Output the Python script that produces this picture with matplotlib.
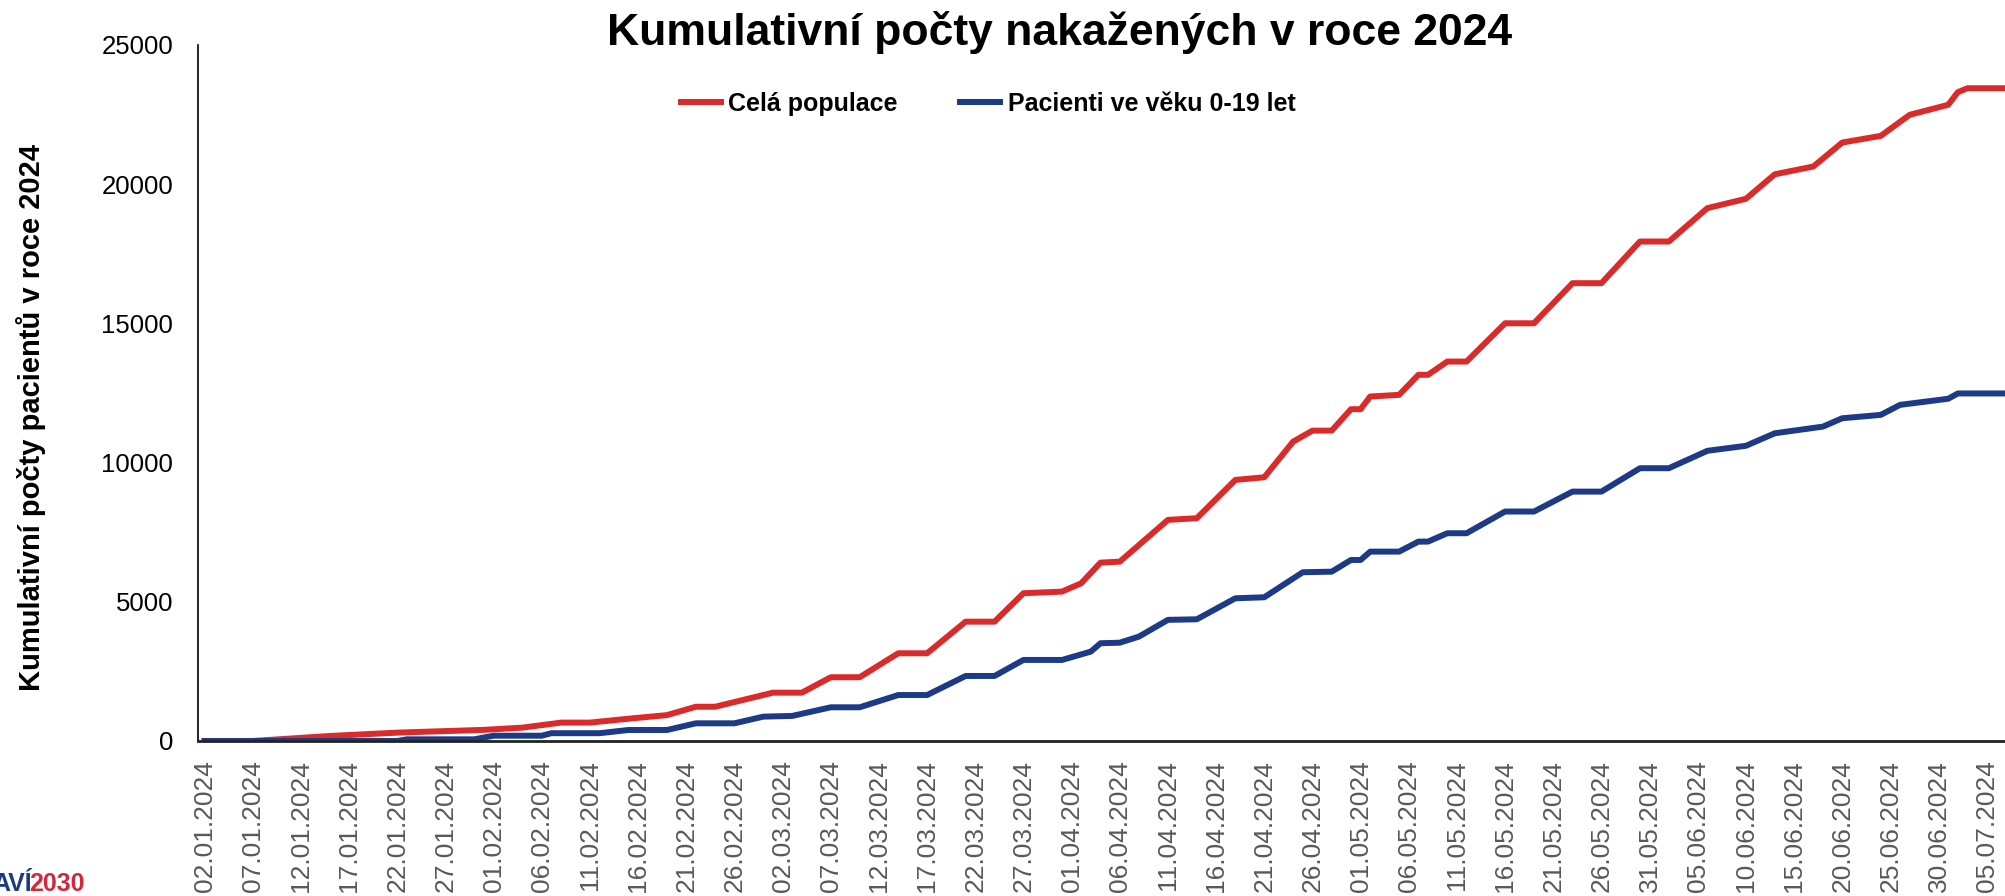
import pandas as pd
import matplotlib.pyplot as plt
import matplotlib.dates as mdates

# cumulative counts at the turning points of each week
red_dates = ['02.01.2024', '07.01.2024', '15.01.2024', '22.01.2024', '31.01.2024', '04.02.2024',
             '08.02.2024', '11.02.2024', '15.02.2024', '19.02.2024', '22.02.2024', '24.02.2024',
             '01.03.2024', '04.03.2024', '07.03.2024', '10.03.2024', '14.03.2024', '17.03.2024',
             '21.03.2024', '24.03.2024', '27.03.2024', '31.03.2024', '02.04.2024', '04.04.2024',
             '06.04.2024', '11.04.2024', '14.04.2024', '18.04.2024', '21.04.2024', '24.04.2024',
             '26.04.2024', '28.04.2024', '30.04.2024', '01.05.2024', '02.05.2024', '05.05.2024',
             '07.05.2024', '08.05.2024', '10.05.2024', '12.05.2024', '16.05.2024', '19.05.2024',
             '23.05.2024', '26.05.2024', '30.05.2024', '02.06.2024', '06.06.2024', '10.06.2024',
             '13.06.2024', '17.06.2024', '20.06.2024', '24.06.2024', '27.06.2024', '01.07.2024',
             '02.07.2024', '03.07.2024', '07.07.2024']
red_values = [0, 0, 180, 300, 400, 480,
              660, 660, 800, 930, 1230, 1230,
              1735, 1735, 2290, 2290, 3150, 3150,
              4285, 4285, 5305, 5365, 5665, 6405,
              6440, 7940, 8000, 9375, 9470, 10750,
              11145, 11145, 11915, 11915, 12370, 12430,
              13150, 13150, 13625, 13625, 15000, 15000,
              16440, 16440, 17935, 17935, 19135, 19470,
              20350, 20630, 21490, 21730, 22485, 22845,
              23300, 23440, 23440]

blue_dates = ['02.01.2024', '22.01.2024', '23.01.2024', '30.01.2024', '01.02.2024', '06.02.2024',
              '07.02.2024', '12.02.2024', '15.02.2024', '19.02.2024', '22.02.2024', '26.02.2024',
              '29.02.2024', '03.03.2024', '07.03.2024', '10.03.2024', '14.03.2024', '17.03.2024',
              '21.03.2024', '24.03.2024', '27.03.2024', '31.03.2024', '03.04.2024', '04.04.2024',
              '06.04.2024', '08.04.2024', '11.04.2024', '14.04.2024', '18.04.2024', '21.04.2024',
              '25.04.2024', '28.04.2024', '30.04.2024', '01.05.2024', '02.05.2024', '05.05.2024',
              '07.05.2024', '08.05.2024', '10.05.2024', '12.05.2024', '16.05.2024', '19.05.2024',
              '23.05.2024', '26.05.2024', '30.05.2024', '02.06.2024', '06.06.2024', '10.06.2024',
              '13.06.2024', '18.06.2024', '20.06.2024', '24.06.2024', '26.06.2024', '01.07.2024',
              '02.07.2024', '07.07.2024']
blue_values = [0, 0, 60, 60, 190, 190,
               280, 280, 395, 395, 635, 635,
               875, 900, 1210, 1210, 1650, 1650,
               2335, 2335, 2910, 2910, 3210, 3510,
               3530, 3750, 4350, 4370, 5125, 5160,
               6060, 6080, 6500, 6500, 6800, 6800,
               7160, 7160, 7460, 7460, 8240, 8240,
               8955, 8955, 9795, 9795, 10420, 10600,
               11050, 11290, 11590, 11710, 12070, 12290,
               12480, 12480]

red_label = 'Celá populace'
blue_label = 'Pacienti ve věku 0-19 let'
title = 'Kumulativní počty nakažených v roce 2024'
ylabel = 'Kumulativní počty pacientů v roce 2024'
y_ticks = [0, 5000, 10000, 15000, 20000, 25000]
first_tick = '02.01.2024'
last_tick = '05.07.2024'

red_x = pd.to_datetime(red_dates, format='%d.%m.%Y')
blue_x = pd.to_datetime(blue_dates, format='%d.%m.%Y')
tick_x = pd.date_range(pd.to_datetime(first_tick, format='%d.%m.%Y'),
                       pd.to_datetime(last_tick, format='%d.%m.%Y'), freq='5D')

plt.rcParams['font.family'] = ['Liberation Sans', 'DejaVu Sans']

fig = plt.figure(figsize=(20.06, 8.96), dpi=100)
ax = fig.add_axes([0.0988, 0.173, 0.9012, 0.777])

ax.plot(red_x, red_values, color='#DA2A2A', lw=4.3, label=red_label, solid_joinstyle='round')
ax.plot(blue_x, blue_values, color='#1C3A85', lw=4.3, label=blue_label, solid_joinstyle='round')

ax.set_ylim(0, 25000)
ax.set_yticks(y_ticks)
ax.set_xlim(tick_x[0] - pd.Timedelta(hours=16), red_x[-1])
ax.set_xticks(tick_x)
ax.xaxis.set_major_formatter(mdates.DateFormatter('%d.%m.%Y'))

for s in ['top', 'right']:
    ax.spines[s].set_visible(False)
ax.spines['left'].set_linewidth(1.2)
ax.spines['bottom'].set_linewidth(2.0)
ax.spines['bottom'].set_color('#222222')
ax.tick_params(axis='y', length=0, labelsize=18.5, pad=18)
ax.tick_params(axis='x', length=0, labelsize=19, labelcolor='#595959', rotation=90, pad=14)

fig.text(0.528, 0.964, title, ha='center', va='center', fontsize=32, fontweight='bold')
fig.text(0.0155, 0.534, ylabel, ha='center', va='center', rotation=90, fontsize=21, fontweight='bold')

ax.legend(loc='upper center', bbox_to_anchor=(0.437, 0.965), ncol=2, frameon=False,
          prop={'family': ['Liberation Sans Narrow', 'Liberation Sans'], 'size': 18, 'weight': 'bold'},
          handlelength=1.6, columnspacing=2.5, handletextpad=0.3)

# logo at the lower left corner, cut by the edge of the picture
logo_font = ['Liberation Sans Narrow', 'Liberation Sans']
fig.text(-0.004, 0.006, 'AVÍ', color='#1C3A85', fontsize=18, fontweight='bold',
         family=logo_font, ha='left', va='baseline')
fig.text(0.0146, 0.006, '2030', color='#D2283C', fontsize=18, fontweight='bold',
         family=logo_font, ha='left', va='baseline')

fig.savefig('out.png', dpi=100)
